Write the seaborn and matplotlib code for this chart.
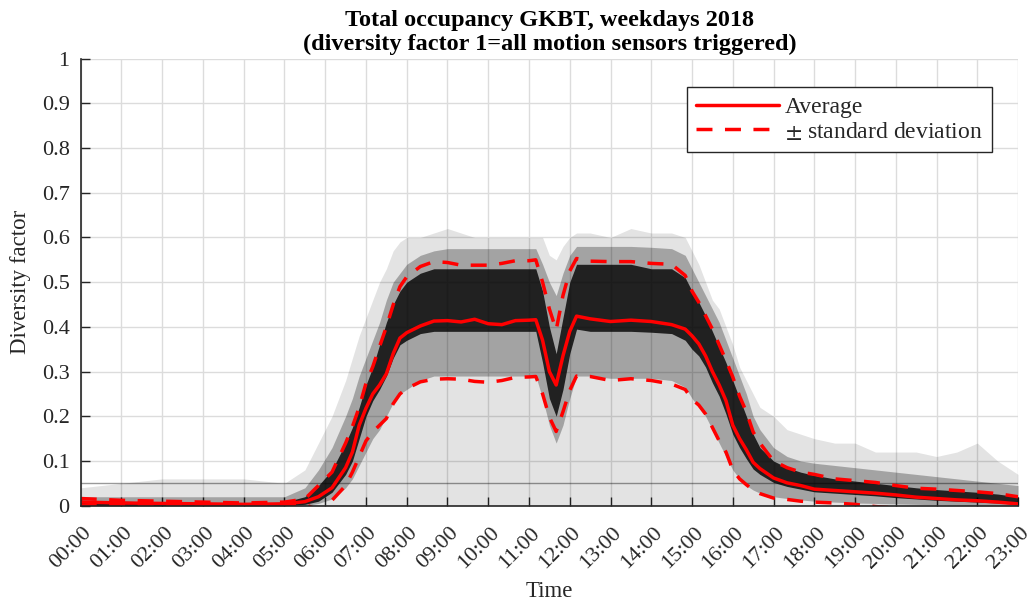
import matplotlib
matplotlib.use("Agg")
import matplotlib.pyplot as plt
from matplotlib.transforms import ScaledTranslation
import seaborn as sns
import numpy as np
import pandas as pd

# Sample times (HH:MM) shared by every series below
times = ["00:00", "01:00", "02:00", "03:00", "04:00", "05:00", "05:30", "05:50",
         "06:10", "06:30", "06:40", "06:50", "07:00", "07:10", "07:20", "07:30",
         "07:40", "07:50", "08:00", "08:20", "08:40", "09:00", "09:20", "09:40",
         "10:00", "10:20", "10:40", "11:00", "11:10", "11:20", "11:30", "11:40",
         "11:50", "12:00", "12:10", "12:30", "13:00", "13:30", "14:00", "14:30",
         "14:50", "15:00", "15:10", "15:20", "15:30", "15:40", "15:50", "16:00",
         "16:10", "16:20", "16:30", "16:40", "17:00", "17:20", "17:40", "18:00",
         "18:30", "19:00", "19:30", "20:00", "20:30", "21:00", "21:30", "22:00",
         "22:30", "23:00"]

# Average diversity factor over all weekdays
average = [0.008, 0.006, 0.005, 0.004, 0.003, 0.004, 0.009, 0.020,
           0.040, 0.085, 0.120, 0.180, 0.218, 0.250, 0.270, 0.295,
           0.340, 0.375, 0.387, 0.402, 0.413, 0.414, 0.411, 0.417,
           0.407, 0.405, 0.414, 0.415, 0.416, 0.370, 0.300, 0.270,
           0.335, 0.390, 0.424, 0.418, 0.412, 0.415, 0.412, 0.405,
           0.395, 0.380, 0.362, 0.335, 0.300, 0.270, 0.235, 0.180,
           0.150, 0.125, 0.097, 0.083, 0.062, 0.051, 0.045, 0.037,
           0.034, 0.031, 0.028, 0.024, 0.019, 0.016, 0.013, 0.011,
           0.008, 0.004]

# Average + one standard deviation
std_upper = [0.016, 0.012, 0.010, 0.008, 0.006, 0.008, 0.015, 0.045,
             0.075, 0.140, 0.177, 0.220, 0.274, 0.311, 0.356, 0.400,
             0.449, 0.490, 0.512, 0.535, 0.546, 0.544, 0.538, 0.538,
             0.538, 0.542, 0.548, 0.548, 0.550, 0.500, 0.440, 0.393,
             0.470, 0.525, 0.553, 0.547, 0.546, 0.546, 0.542, 0.540,
             0.515, 0.480, 0.455, 0.425, 0.395, 0.360, 0.325, 0.288,
             0.245, 0.210, 0.165, 0.140, 0.100, 0.085, 0.075, 0.070,
             0.060, 0.056, 0.052, 0.045, 0.039, 0.037, 0.034, 0.031,
             0.027, 0.020]

# Average - one standard deviation (negative values fall below the axis)
std_lower = [0.000, 0.000, 0.000, 0.000, 0.000, 0.000, 0.003, -0.010,
             0.012, 0.045, 0.075, 0.110, 0.145, 0.165, 0.180, 0.195,
             0.228, 0.250, 0.262, 0.277, 0.283, 0.284, 0.283, 0.278,
             0.276, 0.280, 0.287, 0.288, 0.289, 0.250, 0.198, 0.166,
             0.210, 0.258, 0.290, 0.289, 0.280, 0.284, 0.280, 0.272,
             0.260, 0.238, 0.225, 0.205, 0.175, 0.145, 0.120, 0.080,
             0.060, 0.047, 0.035, 0.027, 0.017, 0.014, 0.010, 0.008,
             0.006, 0.003, -0.002, -0.005, -0.006, -0.007, -0.008, -0.008,
             -0.009, -0.010]

# Spread of the individual daily profiles: outer extent
days_max = [0.04, 0.05, 0.06, 0.06, 0.06, 0.05, 0.08, 0.14,
            0.20, 0.28, 0.33, 0.38, 0.42, 0.46, 0.50, 0.53,
            0.57, 0.59, 0.60, 0.60, 0.61, 0.62, 0.61, 0.60,
            0.60, 0.60, 0.60, 0.60, 0.60, 0.60, 0.56, 0.55,
            0.58, 0.60, 0.61, 0.61, 0.60, 0.62, 0.61, 0.61,
            0.60, 0.57, 0.54, 0.50, 0.46, 0.44, 0.40, 0.36,
            0.31, 0.28, 0.25, 0.22, 0.20, 0.17, 0.16, 0.15,
            0.14, 0.14, 0.12, 0.12, 0.12, 0.11, 0.12, 0.14,
            0.10, 0.07]

# Where most daily profiles lie
bulk_top = [0.020, 0.020, 0.020, 0.020, 0.020, 0.020, 0.040, 0.080,
            0.130, 0.200, 0.240, 0.290, 0.330, 0.370, 0.410, 0.460,
            0.500, 0.520, 0.540, 0.560, 0.570, 0.575, 0.575, 0.575,
            0.575, 0.575, 0.575, 0.575, 0.575, 0.540, 0.500, 0.470,
            0.520, 0.560, 0.580, 0.580, 0.580, 0.580, 0.578, 0.575,
            0.560, 0.530, 0.500, 0.470, 0.440, 0.410, 0.370, 0.330,
            0.290, 0.250, 0.200, 0.170, 0.130, 0.110, 0.100, 0.095,
            0.090, 0.085, 0.080, 0.075, 0.070, 0.065, 0.060, 0.055,
            0.050, 0.045]
bulk_bottom = [0.000, 0.000, 0.000, 0.000, 0.000, 0.000, 0.000, 0.005,
               0.015, 0.040, 0.060, 0.090, 0.120, 0.150, 0.170, 0.200,
               0.230, 0.250, 0.260, 0.280, 0.290, 0.290, 0.290, 0.290,
               0.290, 0.290, 0.290, 0.290, 0.290, 0.240, 0.180, 0.140,
               0.180, 0.240, 0.290, 0.290, 0.285, 0.285, 0.285, 0.280,
               0.265, 0.240, 0.220, 0.200, 0.170, 0.140, 0.110, 0.080,
               0.060, 0.045, 0.035, 0.028, 0.020, 0.016, 0.013, 0.010,
               0.008, 0.006, 0.005, 0.004, 0.003, 0.002, 0.001, 0.000,
               0.000, 0.000]

# Densest band of daily profiles
core_top = [0.012, 0.010, 0.008, 0.006, 0.005, 0.008, 0.020, 0.045,
            0.080, 0.140, 0.175, 0.220, 0.270, 0.310, 0.360, 0.410,
            0.450, 0.480, 0.500, 0.520, 0.530, 0.530, 0.530, 0.530,
            0.530, 0.530, 0.530, 0.530, 0.530, 0.480, 0.400, 0.340,
            0.420, 0.500, 0.540, 0.540, 0.540, 0.540, 0.530, 0.530,
            0.510, 0.480, 0.455, 0.425, 0.390, 0.355, 0.320, 0.280,
            0.240, 0.200, 0.160, 0.130, 0.100, 0.085, 0.075, 0.068,
            0.060, 0.055, 0.050, 0.045, 0.040, 0.036, 0.033, 0.030,
            0.026, 0.020]
core_bottom = [0.000, 0.000, 0.000, 0.000, 0.000, 0.000, 0.003, 0.010,
               0.030, 0.070, 0.100, 0.150, 0.200, 0.235, 0.260, 0.290,
               0.330, 0.360, 0.370, 0.385, 0.390, 0.390, 0.390, 0.390,
               0.390, 0.390, 0.390, 0.390, 0.390, 0.320, 0.240, 0.200,
               0.260, 0.340, 0.395, 0.390, 0.390, 0.390, 0.388, 0.385,
               0.370, 0.350, 0.335, 0.310, 0.275, 0.245, 0.205, 0.160,
               0.130, 0.105, 0.082, 0.070, 0.052, 0.043, 0.037, 0.031,
               0.028, 0.025, 0.022, 0.018, 0.015, 0.012, 0.010, 0.008,
               0.006, 0.003]

# One weekday whose sensors reported a constant value all day
flat_day_times = ["00:00", "23:00"]
flat_day_values = [0.05, 0.05]

tick_labels = [f"{h:02d}:00" for h in range(24)]
y_tick_labels = ["0", "0.1", "0.2", "0.3", "0.4", "0.5", "0.6", "0.7", "0.8",
                 "0.9", "1"]


def to_hours(stamps):
    return np.array([int(s[:2]) + int(s[3:]) / 60 for s in stamps])


hours = to_hours(times)
df = pd.DataFrame({"hour": hours, "average": average,
                   "upper": std_upper, "lower": std_lower})

sns.set_theme(style="white")
plt.rcParams["font.family"] = ["Liberation Serif", "DejaVu Serif"]
plt.rcParams["mathtext.fontset"] = "stix"

fig = plt.figure(figsize=(10.35, 6.03), dpi=100)
ax = fig.add_axes([0.078, 0.1614, 0.9056, 0.7413])

# Cloud of daily profiles, from sparse to dense
ax.fill_between(hours, 0, days_max, color="black", alpha=0.11, lw=0, zorder=2)
ax.fill_between(hours, bulk_bottom, bulk_top, color="black", alpha=0.28, lw=0, zorder=2)
ax.fill_between(hours, core_bottom, core_top, color="black", alpha=0.8, lw=0, zorder=2)
ax.plot(to_hours(flat_day_times), flat_day_values, color="black", alpha=0.4,
        lw=1.0, zorder=2)

red = "#ff0000"
dash = (0, (4.6, 3.6))
sns.lineplot(data=df, x="hour", y="average", ax=ax, color=red, lw=2.5,
             label="Average", zorder=5)
sns.lineplot(data=df, x="hour", y="upper", ax=ax, color=red, lw=2.5,
             linestyle=dash, label="$\\pm$ standard deviation", zorder=5)
sns.lineplot(data=df, x="hour", y="lower", ax=ax, color=red, lw=2.5,
             linestyle=dash, label="_nolegend_", zorder=5)

ax.set_xlim(0, 23)
ax.set_ylim(0, 1)
ax.set_xticks(np.arange(24))
ax.set_xticklabels(tick_labels, rotation=45, ha="right", rotation_mode="anchor")
ax.set_yticks(np.round(np.arange(0, 1.01, 0.1), 1))
ax.set_yticklabels(y_tick_labels)
ax.tick_params(axis="both", direction="in", length=6.5, width=1.0,
               colors="#262626", labelsize=16, bottom=True, left=True)
ax.tick_params(axis="y", pad=8)
ax.tick_params(axis="x", pad=13)
shift = ScaledTranslation(0.015, 0, fig.dpi_scale_trans)
for lbl in ax.get_xticklabels():
    lbl.set_transform(lbl.get_transform() + shift)

ax.grid(True, color="#dcdcdc", lw=1.0, zorder=0)
ax.set_axisbelow(True)
for side in ("top", "right"):
    ax.spines[side].set_visible(False)
for side in ("left", "bottom"):
    ax.spines[side].set_color("#262626")
    ax.spines[side].set_linewidth(1.2)
    ax.spines[side].set_zorder(6)

ax.set_xlabel("Time", fontsize=16.5, color="#262626", labelpad=6)
ax.set_ylabel("Diversity factor", fontsize=16.5, color="#262626", labelpad=8)
ax.set_title("Total occupancy GKBT, weekdays 2018\n"
             "(diversity factor 1=all motion sensors triggered)",
             fontsize=17.5, fontweight="bold", color="black", pad=6, linespacing=1.2)

leg = ax.legend(loc="upper right", bbox_to_anchor=(0.972, 0.937), borderaxespad=0,
                fontsize=17, frameon=True, fancybox=False, framealpha=1,
                edgecolor="#262626", handlelength=3.5, handletextpad=0.25,
                borderpad=0.4, labelspacing=0.12)
leg.get_frame().set_linewidth(1.0)

fig.savefig("out.png", dpi=100)
